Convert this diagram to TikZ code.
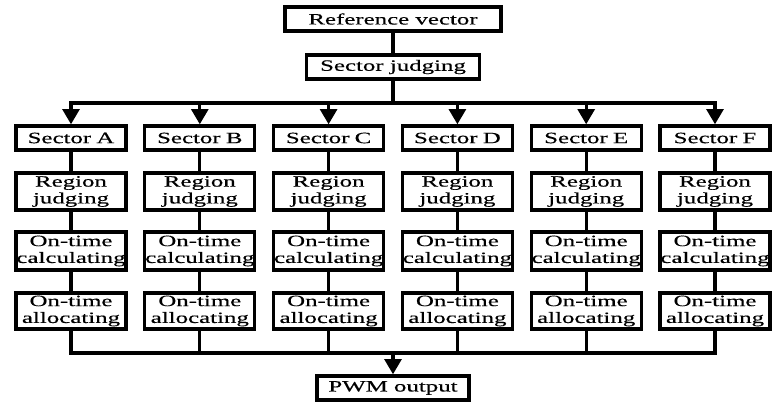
\documentclass[tikz,border=0pt]{standalone}
\usepackage{fontspec}
\setmainfont[FakeStretch=1.58,FakeBold=0.3]{Liberation Serif}
\usepackage{tikz}
\usetikzlibrary{arrows.meta}
\usetikzlibrary{positioning}
\tikzstyle{line} = [line width=2.4pt]
\tikzstyle{arrow} = [line width=2.4pt,-{Triangle[width=0.42cm,length=0.38cm]}]
\tikzstyle{block} = [
    rectangle, draw=black, line width=2.4pt, fill=white, text centered,
    inner sep=0pt, font=\fontsize{11.2}{12}\selectfont]
\tikzstyle{step box} = [block, text width=2.75cm]

\begin{document}
\begin{tikzpicture}
\useasboundingbox (0,0) rectangle (19.3,-10.05);

\node (ref) [block, minimum width=5.4cm, minimum height=0.6cm] at (9.825,-0.475) {Reference vector};
\node (judge) [block, minimum width=4.325cm, minimum height=0.6cm] at (9.825,-1.675) {Sector judging};
\node (pwm) [block, minimum width=3.8cm, minimum height=0.6cm] at (9.825,-9.7) {PWM output};
\coordinate (bus) at (9.825,-2.575);
\coordinate (sum) at (9.825,-8.825);

\draw [line] (ref) -- (judge);
\draw [line] (judge) -- (bus);

\foreach \s [count=\i from 0] in {A,B,C,D,E,F} {
    \pgfmathsetmacro\x{1.775+3.22*\i}
    \node (sec\s) [step box, minimum height=0.6cm] at (\x,-3.45) {Sector \s};
    \node (reg\s) [step box, minimum height=0.925cm] at (\x,-4.7875) {Region\\judging};
    \node (cal\s) [step box, minimum height=0.95cm] at (\x,-6.275) {On-time\\calculating};
    \node (all\s) [step box, minimum height=0.9cm] at (\x,-7.775) {On-time\\allocating};
    \draw [arrow] (bus -| sec\s) -- (sec\s);
    \draw [line] (sec\s) -- (reg\s);
    \draw [line] (reg\s) -- (cal\s);
    \draw [line] (cal\s) -- (all\s);
    \draw [line] (all\s) -- (sum -| all\s);
}

\draw [line, line cap=rect] (bus -| secA) -- (bus -| secF);
\draw [line, line cap=rect] (sum -| allA) -- (sum -| allF);
\draw [arrow] (sum) -- (pwm);
\end{tikzpicture}
\end{document}
